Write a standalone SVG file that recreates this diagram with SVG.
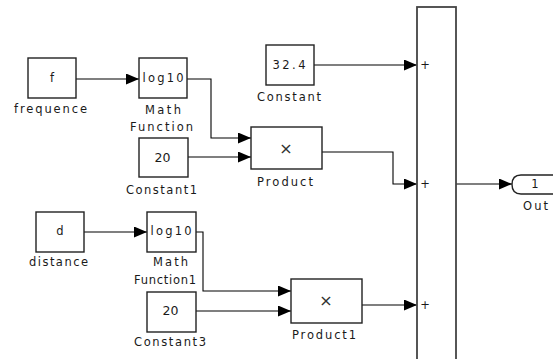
<svg xmlns="http://www.w3.org/2000/svg" width="553" height="359" viewBox="0 0 553 359">
<style>
.blk{fill:#fff;stroke:#222;stroke-width:1.4}
.sum{fill:#fff;stroke:#444;stroke-width:1.8}
.ln{fill:none;stroke:#000;stroke-width:1.1}
.t{font-family:"DejaVu Sans","Liberation Sans",sans-serif;font-size:11.5px;fill:#1a1a1a;text-anchor:middle}
.n{font-family:"DejaVu Sans","Liberation Sans",sans-serif;font-size:12.5px;fill:#1a1a1a;text-anchor:middle}
.x{font-family:"DejaVu Sans",sans-serif;font-size:16px;fill:#333;text-anchor:middle}
</style>
<defs>
<marker id="ar" markerUnits="userSpaceOnUse" markerWidth="14" markerHeight="12" refX="13" refY="5.5" orient="auto">
<path d="M0,0 L13,5.5 L0,11 Z" fill="#000"/>
</marker>
</defs>
<rect width="553" height="359" fill="#fff"/>
<g id="connectors">
<path class="ln" d="M76,79 H139" marker-end="url(#ar)"/>
<path class="ln" d="M187,79 H211 V138 H251" marker-end="url(#ar)"/>
<path class="ln" d="M188,157 H251" marker-end="url(#ar)"/>
<path class="ln" d="M314,65 H417" marker-end="url(#ar)"/>
<path class="ln" d="M322,152 H393 V184 H417" marker-end="url(#ar)"/>
<path class="ln" d="M456,184 H512" marker-end="url(#ar)"/>
<path class="ln" d="M84,232 H147" marker-end="url(#ar)"/>
<path class="ln" d="M196,232 H203 V291 H291" marker-end="url(#ar)"/>
<path class="ln" d="M196,311 H291" marker-end="url(#ar)"/>
<path class="ln" d="M362,305 H417" marker-end="url(#ar)"/>
</g>
<g id="frequence">
<rect class="blk" x="28" y="58" width="48" height="40"/>
<text class="t" x="52" y="82">f</text>
<text class="t" x="50.5" y="113" textLength="73" lengthAdjust="spacing">frequence</text>
</g>
<g id="math_function">
<rect class="blk" x="139" y="58" width="48" height="40"/>
<text class="t" x="163" y="82" textLength="41" lengthAdjust="spacing">log10</text>
<text class="t" x="163" y="114" textLength="36" lengthAdjust="spacing">Math</text>
<text class="t" x="161.5" y="131" textLength="63" lengthAdjust="spacing">Function</text>
</g>
<g id="constant">
<rect class="blk" x="266" y="45" width="48" height="40"/>
<text class="t" x="289" y="69" textLength="33" lengthAdjust="spacing">32.4</text>
<text class="t" x="289" y="101" textLength="64" lengthAdjust="spacing">Constant</text>
</g>
<g id="constant1">
<rect class="blk" x="139" y="138" width="49" height="39"/>
<text class="n" x="162.5" y="162">20</text>
<text class="t" x="161.5" y="194" textLength="71" lengthAdjust="spacing">Constant1</text>
</g>
<g id="product">
<rect class="blk" x="251" y="127" width="71" height="42"/>
<text class="x" x="286" y="154">×</text>
<text class="t" x="285" y="186" textLength="56" lengthAdjust="spacing">Product</text>
</g>
<g id="sum">
<rect class="sum" x="417" y="7" width="39" height="360"/>
<text class="t" x="425" y="69">+</text>
<text class="t" x="425" y="188">+</text>
<text class="t" x="425" y="309">+</text>
</g>
<g id="out">
<path class="blk" d="M521,175 H560 V194 H521 Q512,194 512,184.5 Q512,175 521,175 Z"/>
<text class="t" x="535" y="188">1</text>
<text class="t" x="535.5" y="210" textLength="25" lengthAdjust="spacing">Out</text>
</g>
<g id="distance">
<rect class="blk" x="36" y="212" width="48" height="40"/>
<text class="t" x="60" y="235">d</text>
<text class="t" x="58.5" y="266" textLength="59" lengthAdjust="spacing">distance</text>
</g>
<g id="math_function1">
<rect class="blk" x="147" y="212" width="49" height="40"/>
<text class="t" x="171" y="235" textLength="41" lengthAdjust="spacing">log10</text>
<text class="t" x="170.5" y="266" textLength="35" lengthAdjust="spacing">Math</text>
<text class="t" x="165" y="284" textLength="62" lengthAdjust="spacing">Function1</text>
</g>
<g id="constant3">
<rect class="blk" x="147" y="292" width="49" height="40"/>
<text class="n" x="170.5" y="315">20</text>
<text class="t" x="170" y="346" textLength="72" lengthAdjust="spacing">Constant3</text>
</g>
<g id="product1">
<rect class="blk" x="291" y="279" width="71" height="44"/>
<text class="x" x="326" y="306">×</text>
<text class="t" x="324" y="339" textLength="64" lengthAdjust="spacing">Product1</text>
</g>
</svg>
